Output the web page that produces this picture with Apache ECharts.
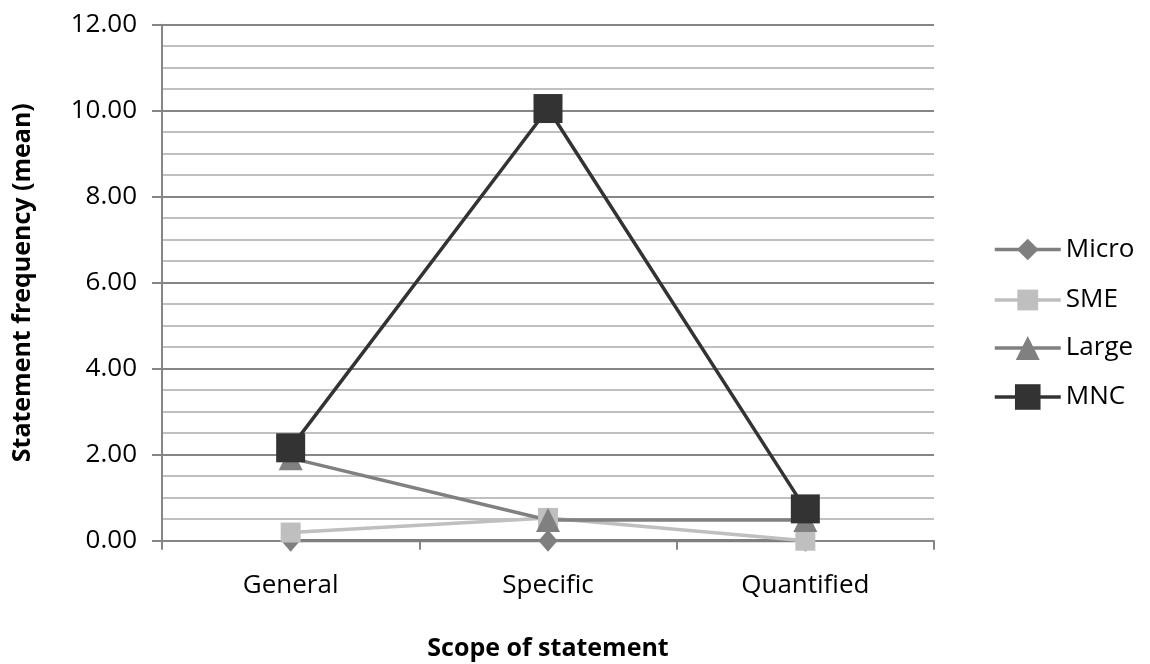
<!DOCTYPE html>
<html>
<head>
<meta charset="utf-8">
<script src="https://cdn.jsdelivr.net/npm/echarts@6/dist/echarts.min.js"></script>
<style>
  html, body { margin: 0; padding: 0; background: #fff; }
  #chart { width: 1150px; height: 664px; }
</style>
</head>
<body>
<div id="chart"></div>
<script>
// Scope of statement categories
const categories = ['General', 'Specific', 'Quantified'];

// Mean statement frequency by firm size
const micro = [0.00, 0.00, 0.00];
const sme   = [0.19, 0.53, 0.00];
const large = [1.92, 0.48, 0.48];
const mnc   = [2.16, 10.05, 0.74];

const FONT = '"Open Sans", "Noto Sans", sans-serif';

const seriesDefs = [
  { name: 'Micro', data: micro, color: '#7f7f7f', symbol: 'diamond',  size: [19, 22], legendH: 27, legendY: 250 },
  { name: 'SME',   data: sme,   color: '#bfbfbf', symbol: 'rect',     size: 20,       legendH: 26, legendY: 300 },
  { name: 'Large', data: large, color: '#808080', symbol: 'triangle', size: 24,       legendH: 30, legendY: 350 },
  { name: 'MNC',   data: mnc,   color: '#333333', symbol: 'rect',     size: 29,       legendH: 32, legendY: 400 }
];

const chart = echarts.init(document.getElementById('chart'), null, { renderer: 'canvas' });

chart.setOption({
  backgroundColor: '#ffffff',
  animation: false,
  grid: { left: 162, right: 216, top: 24.7, bottom: 123.3, containLabel: false, outerBoundsMode: 'none' },
  legend: seriesDefs.map(s => ({
    data: [s.name],
    orient: 'vertical',
    left: 988,
    top: s.legendY - s.legendH / 2 - 5,
    itemWidth: 66,
    itemHeight: s.legendH,
    itemGap: 5,
    lineStyle: { width: 3.5 },
    textStyle: { fontFamily: FONT, fontSize: 26, color: '#000' },
    selectedMode: false
  })),
  xAxis: {
    type: 'category',
    data: categories,
    boundaryGap: true,
    name: 'Scope of statement',
    nameLocation: 'middle',
    nameGap: 96,
    nameTextStyle: { fontFamily: FONT, fontSize: 25, fontWeight: 'bold', color: '#000' },
    axisLine: { lineStyle: { color: '#868686', width: 2 } },
    axisTick: { show: true, length: 9, lineStyle: { color: '#868686', width: 2 } },
    axisLabel: { fontFamily: FONT, fontSize: 26, color: '#000', margin: 32 }
  },
  yAxis: {
    type: 'value',
    min: 0,
    max: 12,
    interval: 2,
    name: 'Statement frequency (mean)',
    nameLocation: 'middle',
    nameGap: 127,
    nameRotate: 90,
    nameTextStyle: { fontFamily: FONT, fontSize: 25, fontWeight: 'bold', color: '#000' },
    axisLine: { show: true, lineStyle: { color: '#868686', width: 2 } },
    axisTick: { show: true, length: 10, lineStyle: { color: '#868686', width: 2 } },
    axisLabel: { fontFamily: FONT, fontSize: 26, color: '#000', margin: 25,
                 formatter: v => v.toFixed(2) },
    splitLine: { show: true, lineStyle: { color: '#868686', width: 2 } },
    minorTick: { show: false, splitNumber: 4 },
    minorSplitLine: { show: true, lineStyle: { color: '#c0c0c0', width: 2 } }
  },
  series: seriesDefs.map(s => ({
    name: s.name,
    type: 'line',
    data: s.data,
    symbol: s.symbol,
    symbolSize: s.size,
    showAllSymbol: true,
    color: s.color,
    lineStyle: { color: s.color, width: 3.5 },
    itemStyle: { color: s.color },
    emphasis: { disabled: true },
    z: 3
  }))
});
</script>
</body>
</html>
